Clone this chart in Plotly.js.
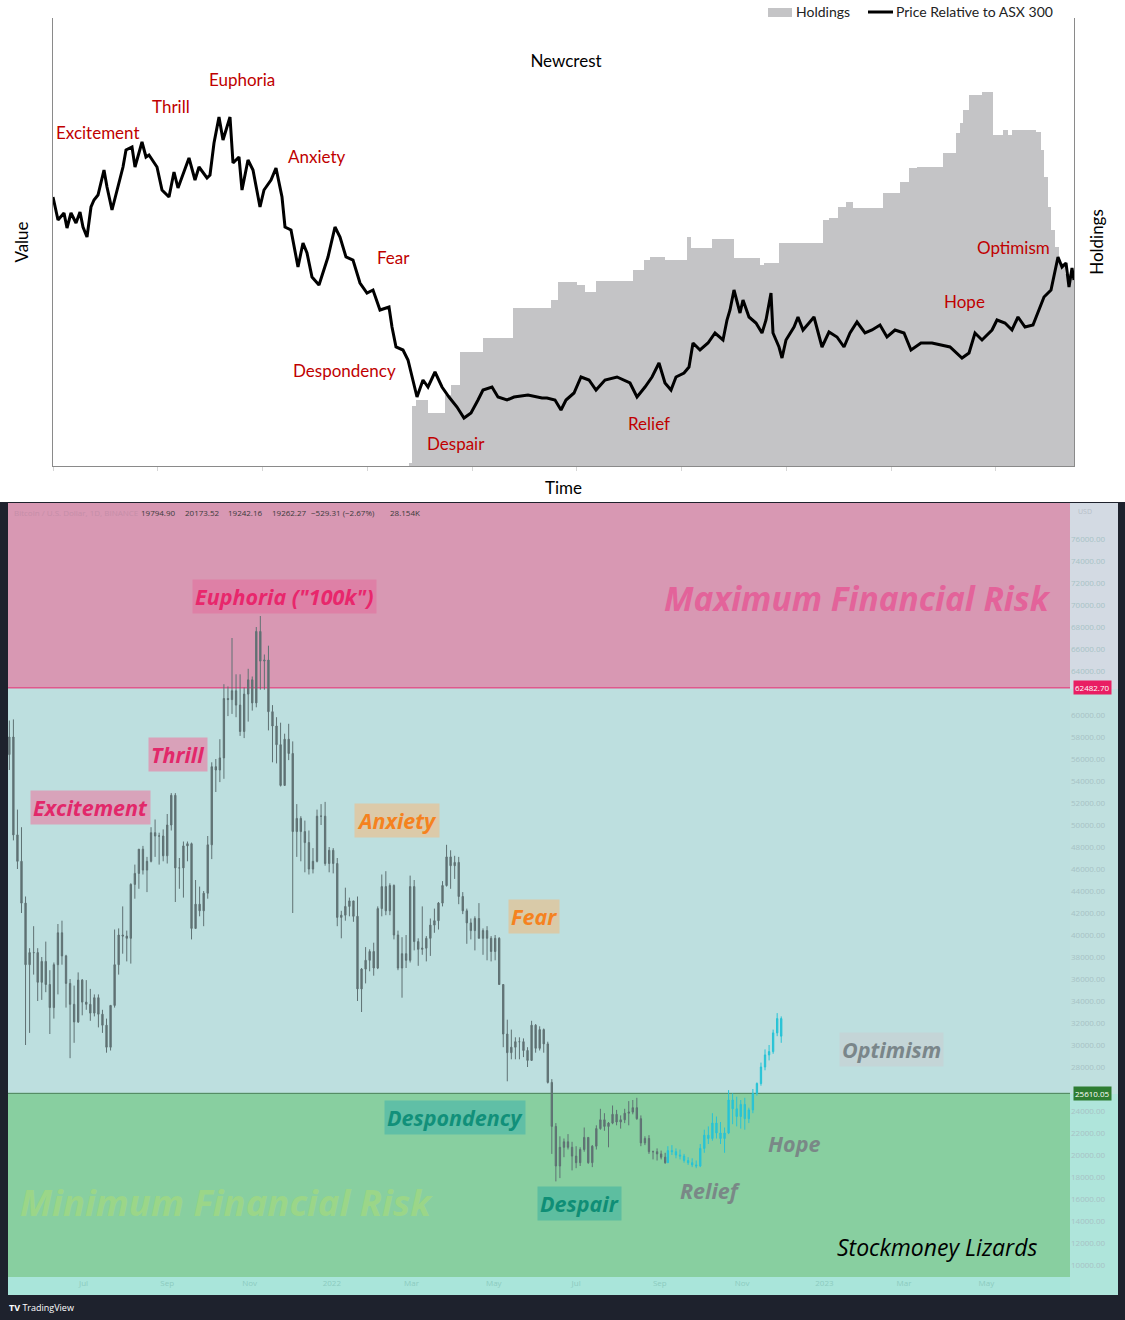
<!DOCTYPE html>
<html>
<head>
<meta charset="utf-8">
<script src="https://cdn.plot.ly/plotly-3.0.1.min.js"></script>
<style>
  html, body { margin: 0; padding: 0; background: #ffffff; }
  #chart { width: 1125px; height: 1320px; }
</style>
</head>
<body>
<div id="chart"></div>
<script>
// ---------------- TOP CHART DATA (Newcrest) ----------------
// time index (arbitrary units) and value (arbitrary units, 0 = axis)
const priceT = [0,5,11,14,18,23,27,30,34,38,41,45,51,54,59,64,70,73,79,82,89,93,96,104,109,116,121,125,136,142,146,154,157,161,166,170,177,180,186,189,195,200,207,211,218,223,229,232,238,245,250,254,259,266,270,275,282,287,293,300,307,314,320,327,336,339,343,350,355,364,370,375,382,389,396,404,411,418,425,430,439,445,454,461,475,489,494,502,508,513,521,528,536,543,552,564,577,584,592,599,606,612,618,623,631,636,640,647,655,662,670,674,677,681,687,690,696,703,709,713,718,720,726,729,733,741,745,750,756,761,769,776,784,791,797,804,812,819,827,834,842,851,858,868,879,890,897,909,916,922,929,939,944,952,959,965,972,980,985,991,998,1002,1005,1009,1013,1016,1019,1021];
const priceV = [269,246,253,238,253,243,254,239,229,259,266,271,296,279,256,276,299,316,319,299,324,309,311,299,276,269,294,278,308,286,299,288,291,323,349,326,349,303,309,276,306,296,259,276,286,298,269,239,236,199,223,213,189,181,194,209,239,229,209,206,183,173,176,156,159,139,119,116,106,69,86,79,94,79,69,59,48,53,66,76,79,69,66,69,71,68,68,66,56,66,73,89,86,76,86,89,83,69,79,89,103,83,76,89,93,99,123,116,123,133,126,146,156,176,153,166,149,143,133,146,173,133,119,108,126,139,149,136,143,149,119,134,129,119,133,144,133,136,141,129,136,133,116,123,123,121,119,108,113,133,126,136,146,143,136,149,139,141,153,169,176,193,209,199,203,179,198,186];
const holdT = [348,356,359,363,375,392,398,407,430,460,498,505,524,532,543,580,591,597,612,634,638,659,681,707,711,726,770,776,785,793,800,830,847,856,864,890,903,907,910,916,929,940,950,955,959,983,988,991,995,998,1002,1006,1012,1021];
const holdV = [0,3,60,66,53,71,81,114,128,158,166,184,181,174,185,196,206,209,206,229,218,227,208,201,203,223,246,248,259,264,258,273,284,298,299,313,333,343,356,371,374,331,336,331,336,334,316,289,259,236,219,203,192,180];

const phaseLabels = ["Excitement","Thrill","Euphoria","Anxiety","Fear","Despondency","Despair","Relief","Hope","Optimism"];
const legendNames = ["Holdings","Price Relative to ASX 300"];

// ---------------- BOTTOM CHART DATA (BTC/USD, 3-day candles, values in thousands USD) ----------------
const btcStart = "2021-05-07";
const btcOpen0K = 56.4;
const btcHighK = [59.5,59.6,51.4,49.8,43.5,38.8,40.8,38.8,38.0,39.4,36.8,37.5,41.0,41.3,38.2,36.0,35.4,36.6,36.0,35.9,35.1,34.6,34.6,33.2,32.4,33.6,40.5,40.6,42.6,40.4,44.7,46.4,47.8,48.1,47.1,49.8,50.5,49.3,49.6,51.0,52.9,52.9,47.0,48.5,48.5,48.4,45.0,44.4,44.0,49.0,55.7,56.0,57.8,62.8,62.6,67.0,63.7,63.7,62.5,64.2,63.5,68.0,69.0,65.5,66.3,60.9,59.8,59.3,58.3,59.2,57.6,51.9,50.8,50.4,49.5,47.9,51.4,51.9,52.1,48.0,47.9,47.0,42.2,44.3,43.4,43.1,43.5,37.0,38.9,38.7,39.3,42.6,45.5,45.8,44.7,44.6,40.4,39.8,40.0,45.4,45.0,39.7,42.6,39.9,41.5,42.4,43.0,44.9,48.2,47.7,47.2,47.1,43.9,42.4,41.5,41.7,42.9,40.6,40.8,39.9,40.0,39.8,35.5,32.3,31.4,30.7,30.7,30.6,29.8,32.2,31.9,31.7,31.5,30.3,26.9,22.9,21.7,21.5,21.9,21.2,20.8,20.7,22.5,21.6,20.9,22.7,24.2,23.8,23.0,24.5,24.1,23.6,24.2,24.9,25.0,25.2,23.6,21.7,21.8,20.4,20.6,20.4,20.2];
const btcLowK  = [55.0,48.6,46.0,42.0,30.0,31.1,36.4,34.0,34.1,34.8,31.0,32.4,34.6,37.3,33.4,28.8,30.2,32.0,32.7,33.2,32.2,32.6,31.6,31.1,29.3,29.5,33.4,36.4,38.3,37.6,37.4,43.3,44.2,45.5,43.9,46.6,47.1,46.4,46.7,46.5,49.5,43.0,44.2,43.4,46.7,39.6,40.6,41.7,40.8,43.3,46.9,53.0,53.9,54.2,59.9,60.1,59.8,58.1,57.9,59.4,60.4,60.7,62.3,62.3,58.6,55.7,55.6,53.5,53.6,55.9,42.0,47.1,46.7,45.7,45.5,45.6,46.6,50.0,46.3,45.7,45.6,40.8,39.7,41.3,41.7,41.2,34.0,33.0,35.6,36.7,36.3,36.9,41.7,41.8,41.8,39.6,36.8,34.3,37.0,37.5,38.6,37.2,38.2,37.6,38.1,40.2,40.5,42.6,44.4,44.2,45.1,42.8,41.9,39.2,39.6,38.6,39.7,38.2,37.7,37.6,37.7,35.5,29.8,26.7,28.7,28.7,28.7,28.9,28.0,28.6,29.3,29.5,29.3,26.5,20.1,17.6,17.9,19.8,20.5,18.6,18.8,19.0,20.3,19.2,18.9,20.5,22.3,22.2,20.7,22.8,22.7,22.4,22.9,22.7,23.7,23.2,20.8,20.9,20.1,19.6,19.5,19.6,19.2];
const btcCloseK= [58.0,49.1,46.7,42.9,37.3,38.4,38.4,35.7,37.6,35.5,33.4,37.3,40.2,38.1,35.6,33.7,32.1,35.9,33.9,33.7,32.9,34.3,32.8,31.8,29.8,33.6,37.3,40.0,39.9,39.7,44.6,45.6,47.8,45.9,46.7,49.3,49.0,49.0,47.2,50.0,52.7,46.1,46.1,48.1,48.3,40.6,42.8,42.2,43.8,48.2,55.3,55.0,56.1,61.5,61.4,62.2,60.9,58.5,61.9,63.2,61.1,67.6,64.9,65.0,60.3,59.0,57.3,53.6,57.8,56.5,49.4,50.6,49.4,48.4,46.0,46.7,50.8,50.8,46.5,47.7,46.5,41.6,41.8,42.6,43.1,41.7,35.1,36.9,37.7,38.5,37.0,42.4,44.4,42.2,44.5,40.0,37.0,38.3,37.7,44.4,39.4,38.7,38.8,39.7,40.9,41.3,42.9,44.5,47.1,46.3,46.6,43.5,42.2,41.1,40.4,41.5,39.7,40.4,39.7,38.5,39.7,35.5,31.0,29.3,29.8,30.3,30.3,29.5,28.6,31.8,29.7,31.4,30.1,26.6,22.6,19.0,20.7,21.2,20.7,19.9,19.3,20.5,21.6,19.3,20.8,22.4,23.2,22.6,22.9,23.7,23.0,23.2,23.8,23.9,24.3,23.3,21.1,21.5,20.3,20.3,20.1,19.8,19.3];

// projected path (cyan), 3-day candles, thousands USD
const projStart = "2022-09-07";
const projHighK = [20.8,20.9,20.6,20.5,20.1,19.8,19.7,19.5,21.0,22.3,22.6,23.8,23.5,23.0,22.5,25.9,25.6,25.3,25.0,25.2,24.3,26.0,26.6,28.4,29.6,30.0,31.4,32.9,32.6];
const projLowK  = [19.9,20.0,19.7,19.6,19.3,19.1,18.9,18.8,18.9,20.2,21.0,21.3,21.5,21.0,20.2,21.9,22.8,22.6,22.4,22.3,22.9,23.8,25.4,26.3,27.7,28.6,29.2,30.8,30.2];
const projCloseK= [20.4,20.3,20.0,19.9,19.5,19.3,19.1,19.0,20.6,21.8,21.5,22.9,22.0,21.5,22.0,25.0,24.2,23.5,24.6,23.3,24.1,25.6,26.5,28.0,29.1,29.4,31.1,32.4,30.8];

const riskTop = 62482.70;
const riskBottom = 25610.05;
const priceTicks = [10000,12000,14000,16000,18000,20000,22000,24000,28000,30000,32000,34000,36000,38000,40000,42000,44000,46000,48000,50000,52000,54000,56000,58000,60000,64000,66000,68000,70000,72000,74000,76000];
const monthTickDates = ["2021-07-01","2021-09-01","2021-11-01","2022-01-01","2022-03-01","2022-05-01","2022-07-01","2022-09-01","2022-11-01","2023-01-01","2023-03-01","2023-05-01"];
const monthTickText = ["Jul","Sep","Nov","2022","Mar","May","Jul","Sep","Nov","2023","Mar","May"];
const headerValues = ["19794.90","20173.52","19242.16","19262.27","\u2212529.31 (\u22122.67%)","28.154K"];

// ---------------- helpers ----------------
const W = 1125, H = 1320;
const px = x => x / W;
const py = y => 1 - y / H;
function dateSeq(start, n, step) {
  const out = []; const d0 = new Date(start + "T00:00:00Z");
  for (let i = 0; i < n; i++) {
    const d = new Date(d0.getTime() + i * step * 86400000);
    out.push(d.toISOString().slice(0, 10));
  }
  return out;
}
const k = a => a.map(v => v * 1000);
const btcDates = dateSeq(btcStart, btcCloseK.length, 3);
const btcClose = k(btcCloseK), btcHigh = k(btcHighK), btcLow = k(btcLowK);
const btcOpen = btcClose.map((c, i) => i === 0 ? btcOpen0K * 1000 : btcClose[i - 1]);
const projDates = dateSeq(projStart, projCloseK.length, 3);
const projClose = k(projCloseK), projHigh = k(projHighK), projLow = k(projLowK);
const projOpen = projClose.map((c, i) => i === 0 ? btcClose[btcClose.length - 1] : projClose[i - 1]);

const grayC = "#5f7173";
const cyanC = "#27c3d6";
const holdColor = "#c4c4c6";

const traces = [
  { type: "scatter", mode: "lines", name: legendNames[0], x: holdT, y: holdV, xaxis: "x", yaxis: "y", showlegend: false,
    line: { width: 0, shape: "hv", color: holdColor }, fill: "tozeroy", fillcolor: holdColor, hoverinfo: "skip" },
  { type: "scatter", mode: "lines", name: legendNames[1], x: priceT, y: priceV, xaxis: "x", yaxis: "y2", showlegend: false,
    line: { width: 3, color: "#000000" } },
  { type: "candlestick", name: "BTCUSD", x: btcDates, open: btcOpen, high: btcHigh, low: btcLow, close: btcClose,
    xaxis: "x2", yaxis: "y3", showlegend: false, whiskerwidth: 0,
    increasing: { line: { color: grayC, width: 1 }, fillcolor: grayC },
    decreasing: { line: { color: grayC, width: 1 }, fillcolor: grayC } },
  { type: "candlestick", name: "Projection", x: projDates, open: projOpen, high: projHigh, low: projLow, close: projClose,
    xaxis: "x2", yaxis: "y3", showlegend: false, whiskerwidth: 0,
    increasing: { line: { color: cyanC, width: 1 }, fillcolor: cyanC },
    decreasing: { line: { color: cyanC, width: 1 }, fillcolor: cyanC } }
];

// ---------------- annotations ----------------
const annotations = [];
const redPos = [[98,133],[171,106],[242,80],[317,157],[393,257],[344,371],[456,443],[649,423],[964,301],[1013,248]];
phaseLabels.forEach((t, i) => annotations.push({
  text: t, xref: "paper", yref: "paper", x: px(redPos[i][0]), y: py(redPos[i][1]),
  xanchor: "center", yanchor: "middle", showarrow: false,
  font: { family: "Lato", size: 17, color: "#c00000" }
}));

// legend (top right)
annotations.push({ text: legendNames[0], xref: "paper", yref: "paper", x: px(794), y: py(12), xanchor: "left", yanchor: "middle",
  showarrow: false, font: { family: "Lato", size: 14, color: "#222" } });
annotations.push({ text: legendNames[1], xref: "paper", yref: "paper", x: px(894), y: py(12), xanchor: "left", yanchor: "middle",
  showarrow: false, font: { family: "Lato", size: 14, color: "#222" } });

function tag(text, x, y, color, bg, size, extra) {
  annotations.push(Object.assign({
    text: "<b><i>" + text + "</i></b>", xref: "paper", yref: "paper", x: px(x), y: py(y),
    xanchor: "center", yanchor: "middle", showarrow: false,
    font: { family: "Open Sans", size: size, color: color },
    bgcolor: bg || "rgba(0,0,0,0)", borderpad: 2
  }, extra || {}));
}
tag("Euphoria (\"100k\")", 284, 596, "#e8276c", "#de80a6", 21.5);
tag("Maximum Financial Risk", 857, 598, "#e3639a", null, 33.5);
tag("Thrill", 178, 754, "#e2286a", "#d9a1b9", 21.5);
tag("Excitement", 90, 808, "#e2286a", "#d8a3ba", 21.5);
tag("Anxiety", 397, 820, "#f5821f", "#dccaa9", 21.5);
tag("Fear", 534, 916, "#f5821f", "#d9caa8", 21.5);
tag("Optimism", 891, 1049, "#7a868a", "#c4d5d7", 21.5);
tag("Despondency", 455, 1117, "#11907a", "#60bfa6", 21.5);
tag("Hope", 794, 1143, "#7a8887", null, 21.5);
tag("Despair", 579, 1203, "#0f8e76", "#5dbea0", 21.5);
tag("Relief", 710, 1190, "#7a8887", null, 21.5);
tag("Minimum Financial Risk", 226, 1202, "#9bd688", null, 36.5);
annotations.push({ text: "<i>Stockmoney Lizards</i>", xref: "paper", yref: "paper", x: px(937), y: py(1247),
  xanchor: "center", yanchor: "middle", showarrow: false, font: { family: "Open Sans", size: 23, color: "#000" } });

// price tags on right scale
annotations.push({ text: "62482.70", xref: "paper", yref: "y3", x: px(1092), y: riskTop, xanchor: "center", yanchor: "middle",
  showarrow: false, font: { family: "Open Sans", size: 8, color: "#ffffff" }, bgcolor: "#e91e63", borderpad: 1 });
annotations.push({ text: "25610.05", xref: "paper", yref: "y3", x: px(1092), y: riskBottom, xanchor: "center", yanchor: "middle",
  showarrow: false, font: { family: "Open Sans", size: 8, color: "#ffffff" }, bgcolor: "#2e7d32", borderpad: 1 });
annotations.push({ text: "USD", xref: "paper", yref: "paper", x: px(1076), y: py(511), xanchor: "left", yanchor: "middle",
  showarrow: false, font: { family: "Open Sans", size: 7, color: "#b6bec8" } });

// header line
annotations.push({ text: "Bitcoin / U.S. Dollar, 1D, BINANCE", xref: "paper", yref: "paper", x: px(12), y: py(512),
  xanchor: "left", yanchor: "middle", showarrow: false, font: { family: "Open Sans", size: 8, color: "#c58ea8" } });
const headerX = [139, 183, 226, 270, 309, 388];
headerValues.forEach((t, i) => annotations.push({ text: t, xref: "paper", yref: "paper", x: px(headerX[i]), y: py(512),
  xanchor: "left", yanchor: "middle", showarrow: false, font: { family: "Open Sans", size: 8, color: "#3a3a3a" } }));

annotations.push({ text: "<b>TV</b> TradingView", xref: "paper", yref: "paper", x: px(7), y: py(1307),
  xanchor: "left", yanchor: "middle", showarrow: false, font: { family: "Open Sans", size: 9, color: "#ffffff" } });

// ---------------- shapes ----------------
const shapes = [
  // legend symbols
  { type: "rect", xref: "paper", yref: "paper", x0: px(768), x1: px(792), y0: py(17), y1: py(8), fillcolor: holdColor, line: { width: 0 } },
  { type: "line", xref: "paper", yref: "paper", x0: px(868), x1: px(893), y0: py(12), y1: py(12), line: { color: "#000", width: 3 } },
  // bottom panel
  { type: "rect", xref: "paper", yref: "paper", x0: 0, x1: 1, y0: 0, y1: py(502), fillcolor: "#1e222d", line: { width: 0 }, layer: "below" },
  { type: "rect", xref: "paper", yref: "paper", x0: px(1070), x1: px(1118), y0: py(689), y1: py(503), fillcolor: "#d3dae3", line: { width: 0 }, layer: "below" },
  { type: "rect", xref: "paper", yref: "paper", x0: px(1070), x1: px(1118), y0: py(1094), y1: py(689), fillcolor: "#c0e0df", line: { width: 0 }, layer: "below" },
  { type: "rect", xref: "paper", yref: "paper", x0: px(1070), x1: px(1118), y0: py(1295), y1: py(1094), fillcolor: "#afe5db", line: { width: 0 }, layer: "below" },
  { type: "rect", xref: "paper", yref: "paper", x0: px(8), x1: px(1070), y0: py(1295), y1: py(1277), fillcolor: "#a9e5da", line: { width: 0 }, layer: "below" },
  { type: "rect", xref: "paper", yref: "paper", x0: px(8), x1: px(1070), y0: py(689), y1: py(503), fillcolor: "#d898b3", line: { width: 0 }, layer: "below" },
  { type: "rect", xref: "paper", yref: "y3", x0: px(8), x1: px(1070), y0: riskBottom, y1: riskTop, fillcolor: "#bddfdf", line: { width: 0 }, layer: "below" },
  { type: "rect", xref: "paper", yref: "paper", x0: px(8), x1: px(1070), y0: py(1277), y1: py(1094), fillcolor: "#88cfa0", line: { width: 0 }, layer: "below" },
  { type: "line", xref: "paper", yref: "y3", x0: px(8), x1: px(1070), y0: riskTop, y1: riskTop, line: { color: "#e0588c", width: 1.5 }, layer: "below" },
  { type: "line", xref: "paper", yref: "y3", x0: px(8), x1: px(1070), y0: riskBottom, y1: riskBottom, line: { color: "#5a9e6a", width: 1 }, layer: "below" }
];

const axisGray = "#8a8a8a";
const layout = {
  width: W, height: H,
  margin: { l: 0, r: 0, t: 0, b: 0 },
  paper_bgcolor: "#ffffff", plot_bgcolor: "rgba(0,0,0,0)",
  font: { family: "Lato", color: "#000" },
  title: { text: "Newcrest", x: px(566), y: py(61), xanchor: "center", yanchor: "middle", xref: "paper", yref: "paper",
    font: { family: "Lato", size: 17, color: "#000" } },
  showlegend: false,
  xaxis: { domain: [px(53), px(1074)], range: [0, 1021], anchor: "y", showline: true, linecolor: axisGray, linewidth: 1,
    ticks: "outside", ticklen: 4, tickcolor: "#d6d6d6", tick0: 0, dtick: 104.75, showticklabels: false,
    showgrid: false, zeroline: false, fixedrange: true,
    title: { text: "Time", standoff: 12, font: { family: "Lato", size: 17, color: "#000" } } },
  yaxis: { domain: [py(466), py(18)], range: [0, 448], anchor: "x", showline: true, linecolor: axisGray, linewidth: 1,
    ticks: "", showticklabels: false, showgrid: false, zeroline: false,
    title: { text: "Value", standoff: 19, font: { family: "Lato", size: 17, color: "#000" } } },
  yaxis2: { overlaying: "y", side: "right", anchor: "x", range: [0, 448], showline: true, linecolor: axisGray, linewidth: 1,
    ticks: "", showticklabels: false, showgrid: false, zeroline: false,
    title: { text: "Holdings", standoff: 17, font: { family: "Lato", size: 17, color: "#000" } } },
  xaxis2: { type: "date", domain: [px(8), px(1070)], anchor: "y3", range: ["2021-05-06", "2023-07-02"],
    rangeslider: { visible: false }, tickmode: "array", tickvals: monthTickDates, ticktext: monthTickText,
    tickfont: { family: "Open Sans", size: 8, color: "#8ccbbf" }, ticks: "", showgrid: false, showline: false, zeroline: false },
  yaxis3: { domain: [py(1277), py(503)], anchor: "x2", side: "right", range: [8909, 79273],
    tickmode: "array", tickvals: priceTicks, ticktext: priceTicks.map(v => v.toFixed(2)),
    tickfont: { family: "Open Sans", size: 8, color: "#a7c2c5" }, ticks: "", showgrid: false, showline: false, zeroline: false },
  shapes: shapes,
  annotations: annotations
};

Plotly.newPlot("chart", traces, layout, { displayModeBar: false, staticPlot: true });
</script>
</body>
</html>
